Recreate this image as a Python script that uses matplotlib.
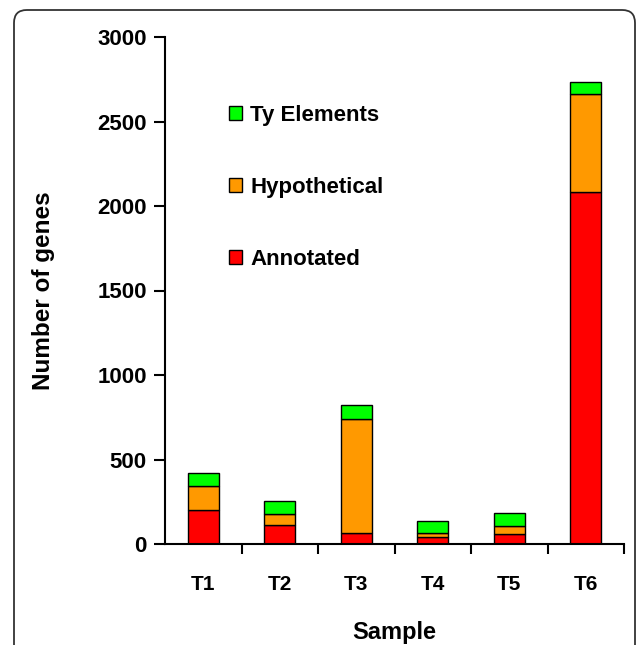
import matplotlib
matplotlib.use("Agg")
import matplotlib.pyplot as plt
from matplotlib.patches import FancyBboxPatch, Patch
import numpy as np

plt.rcParams['font.family'] = ['Liberation Sans', 'DejaVu Sans']
plt.rcParams['font.weight'] = 'bold'

# data
samples = ["T1", "T2", "T3", "T4", "T5", "T6"]
annotated = [200, 110, 63, 41, 57, 2080]
hypothetical = [142, 65, 674, 22, 49, 580]
ty_elements = [78, 77, 87, 71, 79, 76]

col_ann = "#FF0000"
col_hyp = "#FF9900"
col_ty = "#00FF00"

W, H = 636, 645
fig = plt.figure(figsize=(W / 100, H / 100), dpi=100)
ax = fig.add_axes([165 / W, 1 - 544 / H, (624 - 165) / W, (544 - 37) / H])

x = np.arange(len(samples))
bw = 0.41
ann = np.array(annotated)
hyp = np.array(hypothetical)
ty = np.array(ty_elements)
ax.bar(x, ann, bw, color=col_ann, edgecolor="black", linewidth=1)
ax.bar(x, hyp, bw, bottom=ann, color=col_hyp, edgecolor="black", linewidth=1)
ax.bar(x, ty, bw, bottom=ann + hyp, color=col_ty, edgecolor="black", linewidth=1)

ax.set_xlim(-0.5, len(samples) - 0.5)
ax.set_ylim(0, 3000)
ax.set_yticks(np.arange(0, 3001, 500))
ax.set_xticks(x)
ax.set_xticklabels(samples)
ax.set_xticks(np.arange(0.5, len(samples), 1), minor=True)

for s in ["top", "right"]:
    ax.spines[s].set_visible(False)
for s in ["left", "bottom"]:
    ax.spines[s].set_linewidth(1.5)

ax.tick_params(axis="y", direction="out", length=8, width=1.5, pad=5, labelsize=16)
ax.tick_params(axis="x", which="major", length=0, pad=22, labelsize=15)
ax.tick_params(axis="x", which="minor", direction="out", length=7, width=1.5)
for lab in ax.get_xticklabels() + ax.get_yticklabels():
    lab.set_fontweight("bold")

ax.set_ylabel("Number of genes", fontsize=17.5, fontweight="bold")
ax.yaxis.set_label_coords(-0.24, 0.5)
ax.set_xlabel("Sample", fontsize=17, fontweight="bold")
ax.xaxis.set_label_coords(0.5, -0.152)

handles = [Patch(facecolor=col_ty, edgecolor="black"),
           Patch(facecolor=col_hyp, edgecolor="black"),
           Patch(facecolor=col_ann, edgecolor="black")]
ax.legend(handles, ["Ty Elements", "Hypothetical", "Annotated"],
          loc="upper left", bbox_to_anchor=(220 / W, 1 - 96 / H),
          bbox_transform=fig.transFigure, frameon=False,
          prop={"size": 16, "weight": "bold"},
          handlelength=0.6, handleheight=0.6, handletextpad=0.35,
          labelspacing=2.3, borderaxespad=0)

frame = FancyBboxPatch((14 / W, -0.1), (635 - 14) / W, 1 - 10 / H + 0.1,
                       boxstyle="round,pad=0,rounding_size=0.02",
                       transform=fig.transFigure, fill=False,
                       edgecolor="#333333", linewidth=1.3, clip_on=False)
fig.patches.append(frame)

fig.savefig("out.png", dpi=100)
